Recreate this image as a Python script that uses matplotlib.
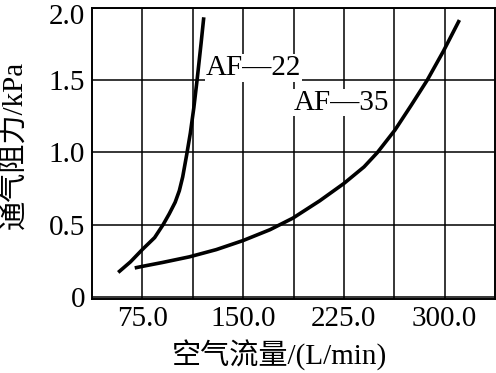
import matplotlib
matplotlib.use("Agg")
import matplotlib.pyplot as plt
from matplotlib.transforms import ScaledTranslation

plt.rcParams["font.family"] = ["Liberation Serif", "Noto Sans CJK SC"]

# air flow (L/min) vs. resistance (kPa)
af22_flow = [57.0, 66.1, 75.0, 84.1, 90.5, 95.0, 99.4, 102.5, 105.0, 108.0, 110.7,
             113.3, 115.7, 118.7, 120.7]
af22_dp = [0.169, 0.242, 0.328, 0.410, 0.501, 0.575, 0.655, 0.735, 0.830, 0.985, 1.134,
           1.310, 1.500, 1.756, 1.936]

af35_flow = [69.3, 75, 90, 110, 130, 150, 170, 187, 207, 225, 240, 250, 263, 275, 287, 299, 311]
af35_dp = [0.200, 0.211, 0.238, 0.277, 0.327, 0.390, 0.465, 0.545, 0.665, 0.785, 0.900,
           1.000, 1.155, 1.325, 1.500, 1.700, 1.917]

x_ticks = [75, 150, 225, 300]
x_ticklabels = ["75.0", "150.0", "225.0", "300.0"]
x_grid = [112.5, 187.5, 262.5]
y_ticks = [0, 0.5, 1.0, 1.5, 2.0]
y_ticklabels = ["0", "0.5", "1.0", "1.5", "2.0"]

fig = plt.figure(figsize=(4.96, 3.73), dpi=100)
ax = fig.add_axes([0.1855, 0.1984, 0.8125, 0.78])

ax.plot(af22_flow, af22_dp, color="black", lw=2.6, solid_capstyle="butt",
        solid_joinstyle="round", zorder=3)
ax.plot(af35_flow, af35_dp, color="black", lw=2.6, solid_capstyle="butt",
        solid_joinstyle="round", zorder=3)

ax.set_xlim(37.5, 337.5)
ax.set_ylim(-0.015, 2.0)
ax.set_xticks(x_ticks)
ax.set_xticklabels(x_ticklabels)
ax.set_xticks(x_grid, minor=True)
ax.set_yticks(y_ticks)
ax.set_yticklabels(y_ticklabels)
ax.tick_params(which="both", length=0, labelsize=21, pad=5)
ax.grid(True, which="both", color="black", lw=1.1, zorder=1)
ax.set_axisbelow(True)
for s in ax.spines.values():
    s.set_linewidth(1.4)

# top label sits a little lower so it is not cut at the edge
top = ax.get_yticklabels()[-1]
top.set_transform(top.get_transform() + ScaledTranslation(0, -4 / 72, fig.dpi_scale_trans))

ax.text(122.4, 1.585, "AF\u201422", fontsize=21, va="center", ha="left", zorder=4,
        bbox=dict(facecolor="white", edgecolor="none", pad=0.5))
ax.text(187.5, 1.344, "AF\u201435", fontsize=21, va="center", ha="left", zorder=4,
        bbox=dict(facecolor="white", edgecolor="none", pad=0.5))

ax.set_xlabel("空气流量/(L/min)", fontsize=21)
ax.xaxis.set_label_coords(0.466, -0.14)
ax.set_ylabel("通气阻力/kPa", fontsize=21)
ax.yaxis.set_label_coords(-0.16, 0.53)

fig.savefig("out.png", dpi=100)
